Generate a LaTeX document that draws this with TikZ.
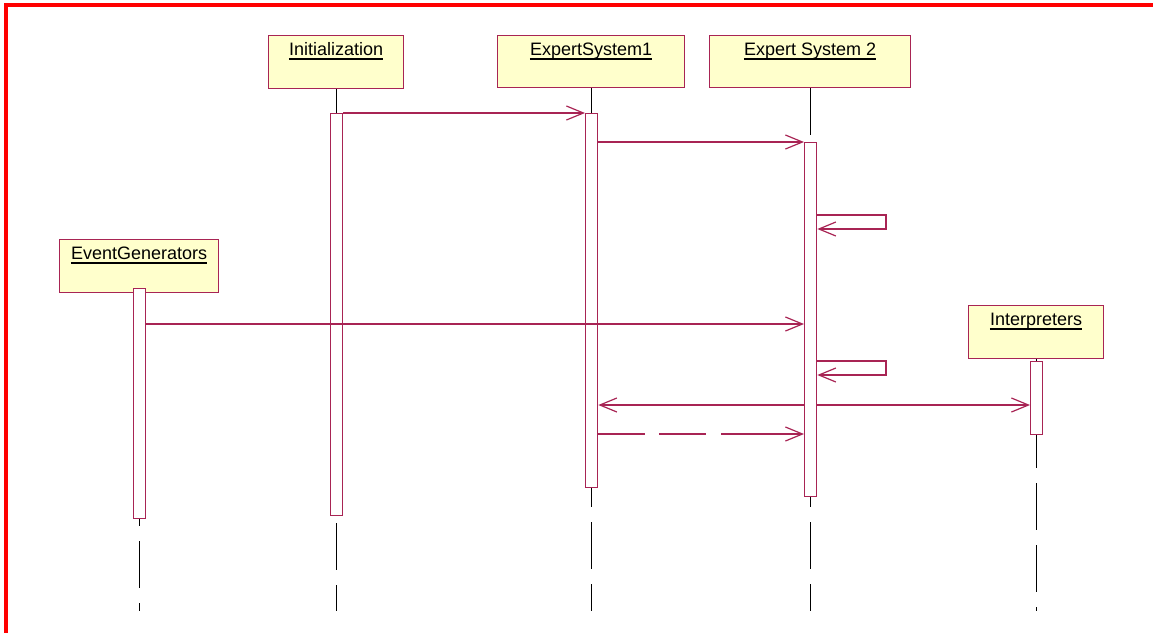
\documentclass[tikz,border=0pt]{standalone}
\usepackage{fontspec}
\setmainfont{Liberation Sans}
\usetikzlibrary{arrows.meta,calc}

\definecolor{umlline}{RGB}{168,36,84}
\definecolor{umlfill}{RGB}{255,255,204}
\definecolor{framered}{RGB}{255,0,0}

\tikzset{
  objbox/.style={draw=umlline, fill=umlfill, line width=1.4pt, inner sep=0pt, anchor=north west},
  objtitle/.style={inner sep=0pt, anchor=base, font=\fontsize{18}{20}\selectfont},
  uline/.style={black, line width=1.3pt},
  actbar/.style={draw=umlline, fill=white, line width=1.3pt, inner sep=0pt, anchor=north west, minimum width=12pt},
  lifeline/.style={black, line width=1.2pt, dash pattern=on 47pt off 15pt},
  msg/.style={umlline, line width=1.2pt, -{Straight Barb[length=17pt,width=14pt,line width=1.2pt]}},
  retmsg/.style={msg, dash pattern=on 47pt off 14pt on 47pt off 15pt on 120pt off 10pt},
}

\begin{document}
\begin{tikzpicture}[x=1pt, y=-1pt]
\useasboundingbox (0,0) rectangle (1153,633);

% page frame (top and left edges only)
\draw[framered, line width=4pt] (4,5) -- (1153,5);
\draw[framered, line width=4pt] (6,3) -- (6,633);

% object boxes
\node[objbox, minimum width=135pt, minimum height=53pt] (init) at (268,35) {};
\node[objbox, minimum width=187pt, minimum height=52pt] (es1) at (497,35) {};
\node[objbox, minimum width=201pt, minimum height=52pt] (es2) at (709,35) {};
\node[objbox, minimum width=159pt, minimum height=53pt] (evg) at (59,239) {};
\node[objbox, minimum width=135pt, minimum height=53pt] (intp) at (968,305) {};

% underlined object names
\foreach \b/\t in {init/Initialization, es1/ExpertSystem1, es2/Expert System 2, evg/EventGenerators, intp/Interpreters}{
  \node[objtitle] (\b-t) at ($(\b.north)+(0,20.5)$) {\t};
  \draw[uline] ([yshift=-3.5pt]\b-t.base west) -- ([yshift=-3.5pt]\b-t.base east);
}

% lifelines
\coordinate (bottom) at (0,611);
\foreach \b in {init, es1, es2, evg, intp}{
  \draw[lifeline] (\b.south) -- (\b.south |- bottom);
}

% activation bars
\node[actbar, minimum height=230pt] (evgA) at (133,288) {};
\node[actbar, minimum height=402pt] (initA) at (330,113) {};
\node[actbar, minimum height=374pt] (es1A) at (585,113) {};
\node[actbar, minimum height=354pt] (es2A) at (804,142) {};
\node[actbar, minimum height=73pt] (intpA) at (1030,361) {};

% message levels
\coordinate (m4) at (0,324);
\coordinate (s1a) at (886,215);
\coordinate (s1b) at (886,229);
\coordinate (s2a) at (886,361);
\coordinate (s2b) at (886,375);
\coordinate (m6) at (0,405);
\coordinate (m8) at (0,434);

% messages
\draw[msg] (initA.north east) -- (es1A.north west);
\draw[msg] (es1A.east |- es2A.north) -- (es2A.north west);
\draw[msg] (es2A.east |- s1a) -- (s1a) -- (s1b) -- (es2A.east |- s1b);
\draw[msg] (evgA.east |- m4) -- (es2A.west |- m4);
\draw[msg] (es2A.east |- s2a) -- (s2a) -- (s2b) -- (es2A.east |- s2b);
\draw[msg] (es2A.west |- m6) -- (es1A.east |- m6);
\draw[msg] (es2A.east |- m6) -- (intpA.west |- m6);
\draw[retmsg] (es1A.east |- m8) -- (es2A.west |- m8);
\end{tikzpicture}
\end{document}
